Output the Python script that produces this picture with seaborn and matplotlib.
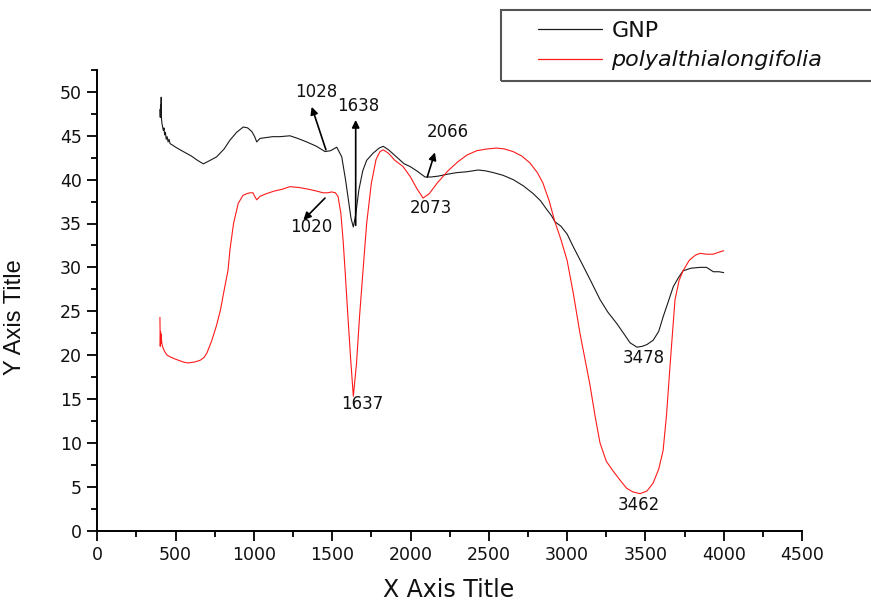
import numpy as np
import pandas as pd
import matplotlib
matplotlib.use("Agg")
import matplotlib.pyplot as plt
from matplotlib.patches import Rectangle
from matplotlib.ticker import MultipleLocator
import seaborn as sns

# ---------------- data ----------------
gnp_x = [400, 402, 404, 406, 408, 410, 413, 418, 422, 426, 430, 435, 440, 446,
         452, 458, 465, 475, 500, 549, 600, 640, 677, 710, 762, 810, 847, 890,
         932, 960, 986, 1005, 1018, 1039, 1080, 1120, 1167, 1230, 1280, 1337,
         1400, 1454, 1490, 1529, 1561, 1585, 1605, 1620, 1635, 1650, 1670, 1695,
         1720, 1760, 1800, 1826, 1860, 1910, 1960, 1997, 2040, 2093, 2130, 2177,
         2230, 2295, 2360, 2433, 2480, 2529, 2590, 2656, 2720, 2784, 2830, 2870,
         2900, 2922, 2960, 3000, 3038, 3090, 3147, 3211, 3260, 3317, 3360, 3402,
         3446, 3480, 3510, 3550, 3585, 3614, 3650, 3678, 3710, 3740, 3790, 3849,
         3890, 3934, 3970, 4000]
gnp_y = [48.0, 47.1, 48.5, 47.3, 49.4, 46.9, 46.4, 45.9, 45.6, 45.9, 45.1, 45.4,
         44.6, 44.9, 44.3, 44.6, 44.1, 44.0, 43.7, 43.2, 42.7, 42.2, 41.8, 42.1,
         42.6, 43.5, 44.5, 45.4, 46.0, 45.9, 45.5, 44.9, 44.3, 44.7, 44.8, 44.9,
         44.9, 45.0, 44.7, 44.3, 43.8, 43.2, 43.3, 43.7, 42.6, 40.0, 37.5, 35.6,
         34.6, 36.0, 38.8, 41.0, 42.2, 43.0, 43.6, 43.8, 43.4, 42.6, 41.8, 41.5,
         41.0, 40.3, 40.3, 40.4, 40.6, 40.8, 40.9, 41.1, 41.0, 40.8, 40.5, 40.0,
         39.3, 38.4, 37.6, 36.6, 35.9, 35.2, 34.7, 33.8, 32.4, 30.6, 28.6, 26.3,
         24.9, 23.6, 22.5, 21.4, 20.9, 21.0, 21.2, 21.7, 22.7, 24.4, 26.3, 27.8,
         28.8, 29.6, 29.9, 30.0, 30.0, 29.5, 29.5, 29.4]

poly_x = [400, 402, 404, 406, 408, 411, 415, 420, 430, 445, 465, 490, 520, 550,
          579, 620, 656, 680, 699, 730, 760, 786, 810, 835, 847, 870, 900, 930,
          954, 975, 994, 1005, 1018, 1039, 1080, 1130, 1180, 1230, 1290, 1350,
          1400, 1441, 1470, 1497, 1520, 1537, 1555, 1570, 1582, 1600, 1618, 1635,
          1655, 1675, 1697, 1720, 1750, 1780, 1805, 1826, 1860, 1900, 1952, 2000,
          2040, 2080, 2120, 2170, 2239, 2300, 2360, 2423, 2490, 2550, 2600, 2655,
          2710, 2763, 2810, 2846, 2885, 2922, 2960, 3000, 3040, 3082, 3120, 3146,
          3180, 3210, 3250, 3293, 3340, 3381, 3420, 3466, 3510, 3549, 3585, 3613,
          3635, 3657, 3675, 3689, 3715, 3740, 3780, 3820, 3849, 3890, 3932, 3965,
          4000]
poly_y = [24.3, 21.0, 22.7, 21.3, 22.4, 21.5, 21.1, 20.8, 20.4, 20.0, 19.8,
          19.6, 19.4, 19.2, 19.1, 19.2, 19.4, 19.7, 20.2, 21.6, 23.3, 25.1, 27.4,
          29.7, 32.0, 35.0, 37.3, 38.2, 38.4, 38.5, 38.5, 38.1, 37.7, 38.1, 38.4,
          38.7, 38.9, 39.2, 39.1, 38.9, 38.7, 38.5, 38.5, 38.6, 38.5, 38.1, 36.2,
          33.0, 29.7, 24.5, 19.5, 15.3, 19.0, 24.5, 29.7, 35.0, 39.6, 42.3, 43.2,
          43.4, 43.0, 42.2, 41.5, 40.3, 39.0, 37.9, 38.4, 39.6, 41.0, 42.0, 42.8,
          43.3, 43.5, 43.6, 43.5, 43.2, 42.7, 41.9, 40.8, 39.6, 37.6, 35.2, 33.2,
          30.8, 27.0, 22.5, 19.0, 16.6, 12.9, 10.0, 7.9, 6.8, 5.7, 4.8, 4.4, 4.2,
          4.5, 5.4, 7.0, 9.1, 13.2, 18.7, 23.0, 26.3, 28.5, 29.6, 30.8, 31.4,
          31.6, 31.5, 31.5, 31.7, 31.9]

series_names = ["GNP", "polyalthialongifolia"]
series_colors = ["#1a1a1a", "#ff1a1a"]

x_ticks = [0, 500, 1000, 1500, 2000, 2500, 3000, 3500, 4000, 4500]
y_ticks = [0, 5, 10, 15, 20, 25, 30, 35, 40, 45, 50]

# peak annotations: label, text position, arrow (tail -> head) or None
ann_labels = ["1028", "1638", "2066", "2073", "1020", "1637", "3478", "3462"]
ann_text_x = [1397, 1667, 2237, 2131, 1369, 1692, 3491, 3455]
ann_text_y = [50.0, 48.4, 45.4, 36.8, 34.6, 14.4, 19.7, 2.9]
ann_tail = [(1460, 43.4), (1650, 34.8), (2107, 40.3), None, (1454, 37.9), None, None, None]
ann_head = [(1369, 48.3), (1650, 46.8), (2156, 43.1), None, (1316, 35.4), None, None, None]

df = pd.concat([
    pd.DataFrame({"x": gnp_x, "y": gnp_y, "series": series_names[0]}),
    pd.DataFrame({"x": poly_x, "y": poly_y, "series": series_names[1]}),
], ignore_index=True)

# ---------------- drawing ----------------
sns.set_theme(style="ticks")
plt.rcParams["font.family"] = ["DejaVu Sans"]

W, H = 871, 601
fig = plt.figure(figsize=(W / 100, H / 100), dpi=100)
fig.patch.set_facecolor("white")
ax = fig.add_axes([97.3 / W, 1 - 530.5 / H, (802 - 97.3) / W, (530.5 - 70) / H])
ax.set_facecolor("white")

sns.lineplot(data=df, x="x", y="y", hue="series", palette=dict(zip(series_names, series_colors)),
             estimator=None, sort=False, linewidth=0.8, ax=ax, legend=False)

ax.set_xlim(0, 4500)
ax.set_ylim(0, 52.5)
ax.set_xticks(x_ticks)
ax.set_yticks(y_ticks)
ax.xaxis.set_minor_locator(MultipleLocator(250))
ax.yaxis.set_minor_locator(MultipleLocator(2.5))
ax.tick_params(which="major", length=7, width=1.3, color="black", labelsize=12.5, pad=4,
               labelcolor="#111111")
ax.tick_params(which="minor", length=4, width=1.3, color="black")
for s in ["top", "right"]:
    ax.spines[s].set_visible(False)
for s in ["left", "bottom"]:
    ax.spines[s].set_linewidth(1.4)
    ax.spines[s].set_color("black")

ax.set_xlabel("X Axis Title", fontsize=17, va="center", color="#111111")
ax.xaxis.set_label_coords(0.499, -0.129)
ax.set_ylabel("Y Axis Title", fontsize=17, va="center", color="#111111",
              family=["Liberation Sans", "DejaVu Sans"])
ax.yaxis.set_label_coords(-0.1168, 0.4625)

for lab, tx, ty, tail, head in zip(ann_labels, ann_text_x, ann_text_y, ann_tail, ann_head):
    ax.text(tx, ty, lab, fontsize=12, ha="center", va="center", color="#111111")
    if tail is not None:
        ax.annotate("", xy=head, xytext=tail,
                    arrowprops=dict(arrowstyle="-|>", color="black", lw=1.2,
                                    mutation_scale=11, shrinkA=0, shrinkB=0))

# legend
handles = [plt.Line2D([], [], color=c, lw=0.9) for c in series_colors]
leg = fig.legend(handles, series_names, loc="upper left",
                 bbox_to_anchor=(538 / W, 1 - 21 / H), frameon=False,
                 fontsize=16, handlelength=2.9, handletextpad=0.4,
                 labelspacing=0.42, borderpad=0, borderaxespad=0)
leg.get_texts()[1].set_style("italic")
for t in leg.get_texts():
    t.set_color("#111111")
fig.patches.append(Rectangle((501 / W, 1 - 81 / H), 0.6, 71 / H, transform=fig.transFigure,
                             fill=False, edgecolor="#555555", lw=1.5, clip_on=False))

fig.savefig("out.png", dpi=100, facecolor="white")
